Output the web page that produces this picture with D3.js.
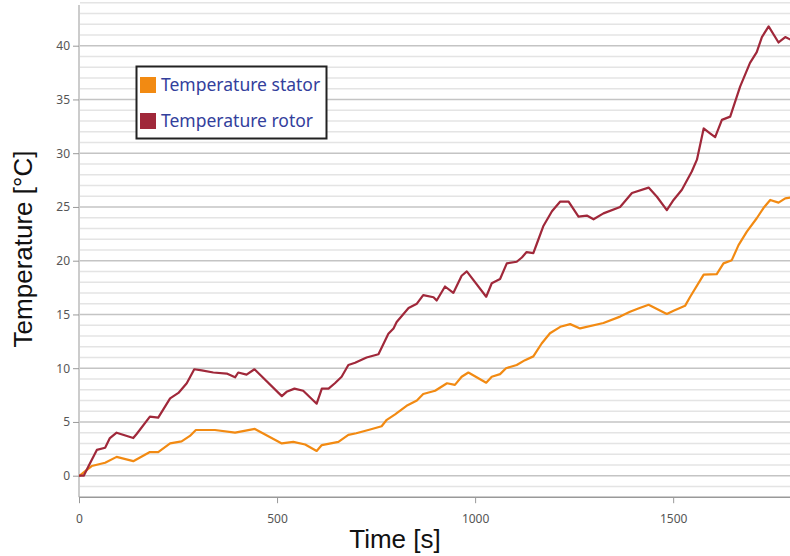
<!DOCTYPE html>
<html>
<head>
<meta charset="utf-8">
<script src="https://cdn.jsdelivr.net/npm/d3@7"></script>
<style>
  body { margin: 0; background: #fff; }
  .tick text { font-family: "Noto Sans", sans-serif; font-size: 12px; fill: #555; }
</style>
</head>
<body>
<div class="chart"></div>
<script>
var width = 790, height = 556;

// series data
var statorTime = [0,2,15,32,66,95,137,179,200,230,259,280,295,343,394,444,512,541,571,600,613,655,680,700,735,764,777,798,827,853,869,899,929,949,966,983,1028,1042,1063,1078,1105,1126,1147,1168,1189,1215,1240,1265,1324,1366,1391,1412,1438,1484,1501,1530,1543,1577,1610,1627,1648,1665,1686,1711,1728,1745,1766,1783,1800];
var statorTemp = [0,0,0.4,0.9,1.2,1.75,1.35,2.2,2.2,3.0,3.2,3.7,4.25,4.25,4.0,4.35,3.0,3.15,2.9,2.3,2.85,3.15,3.8,3.95,4.3,4.6,5.2,5.7,6.5,7.0,7.6,7.9,8.6,8.45,9.2,9.6,8.65,9.2,9.45,10.0,10.3,10.75,11.1,12.3,13.25,13.85,14.1,13.7,14.2,14.8,15.25,15.55,15.9,15.05,15.35,15.8,16.65,18.7,18.75,19.75,20.05,21.45,22.7,23.95,24.9,25.65,25.4,25.8,25.9];

var rotorTime = [0,12,23,45,66,78,95,137,146,179,200,230,251,272,291,310,339,373,394,402,423,443,512,524,544,566,600,613,630,646,663,680,697,726,756,781,794,802,832,853,869,895,903,924,945,966,979,1028,1042,1063,1080,1105,1118,1130,1147,1156,1172,1194,1215,1236,1261,1282,1299,1324,1366,1396,1438,1459,1484,1501,1522,1547,1560,1577,1593,1606,1623,1644,1669,1694,1711,1724,1741,1766,1783,1800];
var rotorTemp = [0,0,0.8,2.4,2.6,3.5,4.0,3.5,3.9,5.5,5.4,7.2,7.7,8.6,9.9,9.8,9.6,9.5,9.15,9.6,9.4,9.9,7.4,7.8,8.1,7.9,6.7,8.1,8.1,8.6,9.2,10.3,10.5,11.0,11.3,13.2,13.7,14.3,15.6,16.0,16.8,16.6,16.3,17.6,17.0,18.6,19.0,16.65,17.9,18.3,19.75,19.9,20.3,20.8,20.7,21.6,23.2,24.6,25.5,25.5,24.1,24.2,23.85,24.4,25.0,26.3,26.8,25.95,24.7,25.65,26.6,28.3,29.4,32.3,31.85,31.5,33.1,33.4,36.2,38.4,39.4,40.8,41.8,40.3,40.8,40.5];

var seriesNames = ["Temperature stator", "Temperature rotor"];
var seriesColors = ["#f28a12", "#a0283a"];
var xTicks = [0, 500, 1000, 1500];
var yTicks = [0, 5, 10, 15, 20, 25, 30, 35, 40];

var series = [
  { name: seriesNames[0], color: seriesColors[0], values: statorTime.map(function(t, i) { return [t, statorTemp[i]]; }) },
  { name: seriesNames[1], color: seriesColors[1], values: rotorTime.map(function(t, i) { return [t, rotorTemp[i]]; }) }
];

//setup svg
var svg = d3.select(".chart").append("svg")
    .attr("width", width)
    .attr("height", height);

var x = d3.scaleLinear().domain([0, 1800]).range([79, 792]);
var y = d3.scaleLinear().domain([-2, 44]).range([497.2, 2.7]);

// grid lines, minor every 1, major every 5
var gridVals = d3.range(-1, 45);
svg.append("g").selectAll("line")
    .data(gridVals)
    .enter().append("line")
    .attr("x1", 80).attr("x2", width)
    .attr("y1", function(d) { return y(d); })
    .attr("y2", function(d) { return y(d); })
    .attr("stroke", function(d) { return d % 5 === 0 ? "#c4c4c4" : "#e4e4e4"; })
    .attr("stroke-width", 1.5);

// axes
var yAxis = svg.append("g")
    .attr("transform", "translate(79,0)")
    .call(d3.axisLeft(y).tickValues(yTicks).tickSize(6).tickPadding(3));
yAxis.select(".domain").remove();
yAxis.selectAll(".tick line").attr("stroke", "#999");

svg.append("line")
    .attr("x1", 79).attr("x2", 79)
    .attr("y1", 5).attr("y2", 497.2)
    .attr("stroke", "#999").attr("stroke-width", 1);

var xAxis = svg.append("g")
    .attr("transform", "translate(0,497.2)")
    .call(d3.axisBottom(x).tickValues(xTicks).tickFormat(d3.format("d")).tickSize(6).tickPadding(11));
xAxis.select(".domain").remove();
xAxis.selectAll(".tick line").attr("stroke", "#999");

svg.append("line")
    .attr("x1", 79).attr("x2", width)
    .attr("y1", 497.2).attr("y2", 497.2)
    .attr("stroke", "#999").attr("stroke-width", 1.5);

// lines
var line = d3.line()
    .x(function(d) { return x(d[0]); })
    .y(function(d) { return y(d[1]); });

svg.append("g").selectAll("path")
    .data(series)
    .enter().append("path")
    .attr("d", function(d) { return line(d.values); })
    .attr("fill", "none")
    .attr("stroke", function(d) { return d.color; })
    .attr("stroke-width", 2.2)
    .attr("stroke-linejoin", "round");

// axis titles
svg.append("text")
    .attr("transform", "translate(32,249) rotate(-90)")
    .attr("text-anchor", "middle")
    .style("font-family", "Liberation Sans, Arial, sans-serif")
    .style("font-size", "26px")
    .attr("fill", "#111")
    .text("Temperature [°C]");

svg.append("text")
    .attr("x", 395).attr("y", 548)
    .attr("text-anchor", "middle")
    .style("font-family", "Liberation Sans, Arial, sans-serif")
    .style("font-size", "26px")
    .attr("fill", "#111")
    .text("Time [s]");

// legend
var legend = svg.append("g");
legend.append("rect")
    .attr("x", 136.5).attr("y", 66.5)
    .attr("width", 190).attr("height", 72)
    .attr("fill", "#fff")
    .attr("stroke", "#222").attr("stroke-width", 2);

var item = legend.selectAll(".item")
    .data(series)
    .enter().append("g")
    .attr("class", "item")
    .attr("transform", function(d, i) { return "translate(140," + (77 + i * 36) + ")"; });

item.append("rect")
    .attr("width", 16).attr("height", 16)
    .attr("fill", function(d) { return d.color; });

item.append("text")
    .attr("x", 21).attr("y", 14)
    .style("font-family", "Noto Sans, sans-serif")
    .style("font-size", "17.5px")
    .attr("fill", "#33409c")
    .text(function(d) { return d.name; });
</script>
</body>
</html>
